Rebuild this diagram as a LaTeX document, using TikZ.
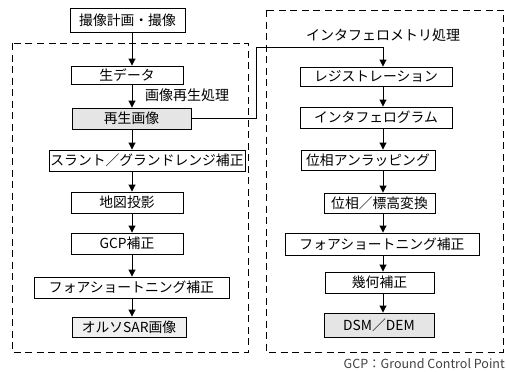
\documentclass[tikz,border=0pt]{standalone}
\usepackage{fontspec}
\setmainfont{Noto Sans CJK JP}
\usetikzlibrary{arrows.meta}
\begin{document}
\begin{tikzpicture}[x=1pt,y=-1pt,
  bx/.style={draw=black,line width=0.9pt,inner sep=0pt,fill=white,font=\fontsize{13.8}{14}\selectfont},
  shade/.style={fill=black!10},
  lshade/.style={fill=black!6},
  arr/.style={line width=0.9pt,-{Triangle[width=7pt,length=7pt]}},
  grp/.style={draw=black,line width=0.9pt,dash pattern=on 7pt off 4.5pt},
  lbl/.style={font=\fontsize{14}{15}\selectfont,inner sep=0pt}]
\useasboundingbox (0,0) rectangle (506,372);
% group frames
\draw[grp] (12,43) rectangle (248,352);
\draw[grp] (266,10) rectangle (503,352);
% left column
\node[bx,minimum width=115pt,minimum height=24pt] (A0) at (127.5,20) {撮像計画・撮像};
\node[bx,minimum width=112pt,minimum height=18pt] (A1) at (127,75) {生データ};
\node[bx,shade,minimum width=119pt,minimum height=21pt] (A2) at (131.5,118.5) {再生画像};
\node[bx,minimum width=196pt,minimum height=21pt] (A3) at (147,160.5) {スラント／グランドレンジ補正};
\node[bx,minimum width=112pt,minimum height=21pt] (A4) at (127,202.5) {地図投影};
\node[bx,minimum width=112pt,minimum height=21pt] (A5) at (127,243.5) {GCP補正};
\node[bx,minimum width=195pt,minimum height=21pt] (A6) at (131.5,287.5) {フォアショートニング補正};
\node[bx,lshade,minimum width=114pt,minimum height=20pt] (A7) at (129,327) {オルソSAR画像};
\node[lbl,anchor=west] (L1) at (145,95) {画像再生処理};
% right column
\node[lbl] (L2) at (383,35) {インタフェロメトリ処理};
\node[bx,minimum width=152pt,minimum height=19pt] (B1) at (376,76.5) {レジストレーション};
\node[bx,minimum width=152pt,minimum height=21pt] (B2) at (376,117.5) {インタフェログラム};
\node[bx,minimum width=134pt,minimum height=20pt] (B3) at (368,160) {位相アンラッピング};
\node[bx,minimum width=111pt,minimum height=20pt] (B4) at (379.5,203) {位相／標高変換};
\node[bx,minimum width=194pt,minimum height=22pt] (B5) at (382,244) {フォアショートニング補正};
\node[bx,minimum width=109pt,minimum height=21pt] (B6) at (379.5,282.5) {幾何補正};
\node[bx,shade,minimum width=110pt,minimum height=24pt] (B7) at (379,325) {DSM／DEM};
% caption
\node[anchor=east,inner sep=0pt,text=black!75,font=\fontsize{12.5}{13}\selectfont] (cap) at (505,364) {GCP：Ground Control Point};
% axes
\coordinate (LX) at (132,0);
\coordinate (RX) at (383,0);
\coordinate (JX) at (256,47);
% arrows left
\foreach \a/\b in {A0/A1,A1/A2,A2/A3,A3/A4,A4/A5,A5/A6,A6/A7}
  \draw[arr] (\a.south -| LX) -- (\b.north -| LX);
% arrows right
\foreach \a/\b in {B1/B2,B2/B3,B3/B4,B4/B5,B5/B6,B6/B7}
  \draw[arr] (\a.south -| RX) -- (\b.north -| RX);
% connector
\draw[arr] (A2.east) -| (JX) -| (B1.north -| RX);
\end{tikzpicture}
\end{document}
